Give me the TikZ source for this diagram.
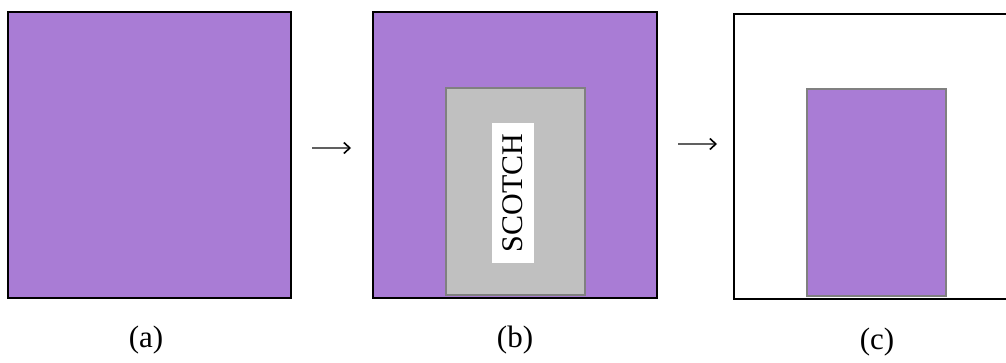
\documentclass[tikz,border=0pt]{standalone}
\usepackage{fontspec}
\setmainfont{Liberation Serif}
\usetikzlibrary{arrows.meta}
\definecolor{lilac}{HTML}{A97CD5}
\definecolor{tape}{HTML}{C0C0C0}
\definecolor{tapeedge}{HTML}{808080}
\definecolor{shaft}{HTML}{606060}
\begin{document}
\begin{tikzpicture}[x=1pt,y=-1pt,
  outerbox/.style={draw=black,line width=2.2pt,inner sep=0pt,outer sep=0pt},
  innerbox/.style={draw=tapeedge,line width=2pt,inner sep=0pt,outer sep=0pt},
  caption/.style={font=\fontsize{31}{36}\selectfont,inner sep=0pt},
  flow/.style={draw=shaft,line width=1.6pt,-{Straight Barb[length=6pt,width=11pt,line width=1.6pt,color=black]}}]
\useasboundingbox (0,0) rectangle (1006,362);
\clip (0,0) rectangle (1006,362);
% (a)
\node[outerbox,fill=lilac,minimum width=283pt,minimum height=286pt] (a) at (149.5,155) {};
% (b)
\node[outerbox,fill=lilac,minimum width=284pt,minimum height=286pt] (b) at (515,155) {};
\node[innerbox,fill=tape,minimum width=139pt,minimum height=207pt] (bt) at (515.5,191.5) {};
\node[fill=white,minimum width=42pt,minimum height=140pt,inner sep=0pt] (bl) at (513,193) {};
\node[rotate=90,font=\fontsize{30}{36}\selectfont,inner sep=0pt] (bs) at (bl.center) {SCOTCH};
% (c)
\node[outerbox,fill=white,minimum width=290pt,minimum height=285pt] (c) at (879,156.5) {};
\node[innerbox,fill=lilac,minimum width=139pt,minimum height=207pt] (ct) at (876.5,192.5) {};
% arrows
\coordinate (a1) at (312,148);
\coordinate (a2) at (351,148);
\coordinate (b1) at (678,144);
\coordinate (b2) at (717,144);
\draw[flow] (a1) -- (a2);
\draw[flow] (b1) -- (b2);
% captions
\node[caption] (la) at (146,340) {(a)};
\node[caption] (lb) at (515,340) {(b)};
\node[caption] (lc) at (877,342) {(c)};
\end{tikzpicture}
\end{document}
